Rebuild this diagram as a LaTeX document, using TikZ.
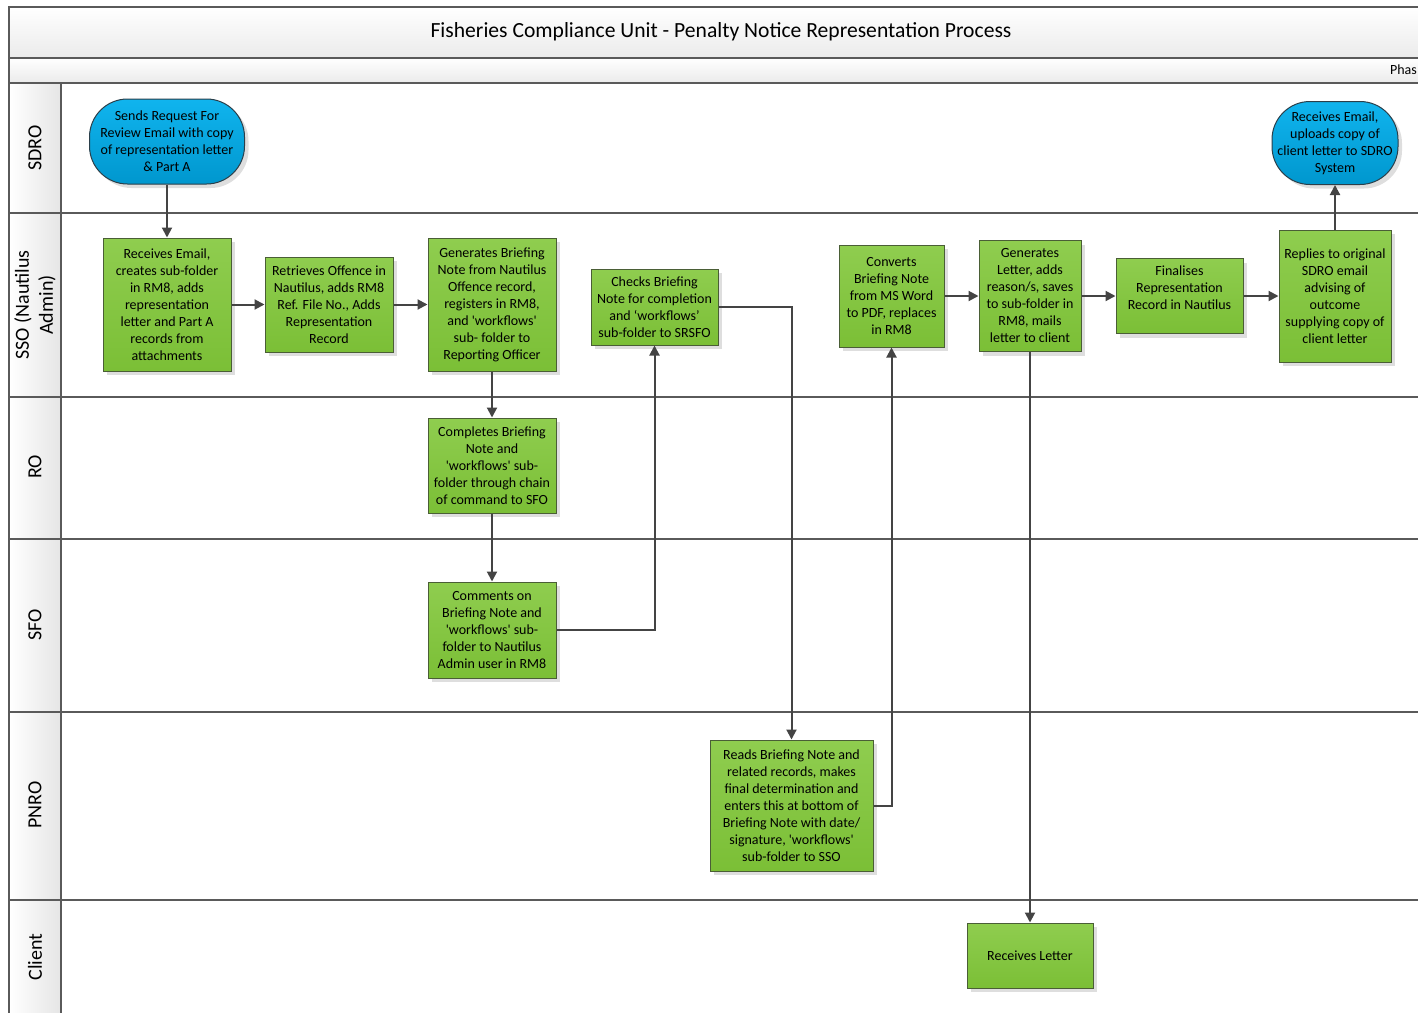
\documentclass[tikz,border=0pt]{standalone}
\usepackage{fontspec}
\setmainfont{Carlito}
\usetikzlibrary{shadows,arrows.meta}

\definecolor{boxgreen}{HTML}{8FCD4F}
\definecolor{boxgreendark}{HTML}{7BBF36}
\definecolor{boxedge}{HTML}{4A5E36}
\definecolor{termblue}{HTML}{10B4EE}
\definecolor{termbluedark}{HTML}{0097CE}
\definecolor{termedge}{HTML}{2B3F4A}
\definecolor{laneline}{HTML}{5A5A5A}
\definecolor{flowline}{HTML}{444444}

\tikzstyle{process}=[draw=boxedge, line width=1pt, top color=boxgreen, bottom color=boxgreendark, align=center, inner sep=2pt, font=\fontsize{14}{17}\selectfont, drop shadow={shadow xshift=4pt, shadow yshift=-4pt, fill=black!13, opacity=1}]
\tikzstyle{terminal}=[process, rounded corners=38pt, inner xsep=0pt, draw=termedge, top color=termblue, bottom color=termbluedark]
\tikzstyle{arrow}=[line width=2pt, draw=flowline, -{Triangle[length=10pt, width=10pt]}]
\tikzstyle{lane}=[laneline, line width=1.5pt]
\tikzstyle{lanename}=[rotate=90, align=center, font=\fontsize{20}{24}\selectfont]

\newcommand{\sq}{\textquotesingle}

\begin{document}
\begin{tikzpicture}[x=1pt, y=-1pt]
    \useasboundingbox (0,0) rectangle (1418,1012);
    \clip (0,0) rectangle (1418,1012);

    \shade[top color=white, bottom color=black!8] (9,7) rectangle (1430,58);
    \shade[top color=white, bottom color=black!8] (9,58) rectangle (1430,83);
    \shade[left color=white, right color=black!10] (9,83) rectangle (61,1020);
    \draw[lane] (1430,7) -- (9,7) -- (9,1020);
    \foreach \y in {58,83,213,397,539,712,900}
        \draw[lane] (9,\y) -- (1430,\y);
    \draw[lane] (61,83) -- (61,1020);

    \node (title) at (721,32) {\fontsize{21.6}{25}\selectfont Fisheries Compliance Unit - Penalty Notice Representation Process};
    \node[anchor=east, inner sep=0pt, font=\fontsize{14}{17}\selectfont] (phase) at (1417,70) {Phas};

    \node[lanename] (sdro) at (35,148) {SDRO};
    \node[lanename] (sso) at (35,305) {SSO (Nautilus\\Admin)};
    \node[lanename] (ro) at (35,467) {RO};
    \node[lanename] (sfo) at (35,625) {SFO};
    \node[lanename] (pnro) at (35,805) {PNRO};
    \node[lanename] (client) at (35,957) {Client};

    \node[terminal, minimum width=155, minimum height=85] (request) at (167,141.5) {Sends Request For\\Review Email with copy\\of representation letter\\\& Part A};
    \node[terminal, minimum width=126, minimum height=83] (upload) at (1335,143) {Receives Email,\\uploads copy of\\client letter to SDRO\\System};

    \node[process, minimum width=128, minimum height=133] (receive) at (167,304.5) {Receives Email,\\creates sub-folder\\in RM8, adds\\representation\\letter and Part A\\records from\\attachments};
    \node[process, minimum width=128, minimum height=95] (retrieve) at (329,304.5) {Retrieves Offence in\\Nautilus, adds RM8\\Ref. File No., Adds\\Representation\\Record};
    \node[process, minimum width=128, minimum height=133] (briefing) at (492,304.5) {Generates Briefing\\Note from Nautilus\\Offence record,\\registers in RM8,\\and \sq workflows\sq\\sub- folder to\\Reporting Officer};
    \node[process, minimum width=127, minimum height=76] (checks) at (654.5,307) {Checks Briefing\\Note for completion\\and ‘workflows’\\sub-folder to SRSFO};
    \node[process, minimum width=105, minimum height=102] (convert) at (891.5,296) {Converts\\Briefing Note\\from MS Word\\to PDF, replaces\\in RM8};
    \node[process, minimum width=102, minimum height=111] (letter) at (1030,296) {Generates\\Letter, adds\\reason/s, saves\\to sub-folder in\\RM8, mails\\letter to client};
    \node[process, minimum width=127, minimum height=75] (finalise) at (1179.5,296) {Finalises\\Representation\\Record in Nautilus\\\mbox{}};
    \node[process, minimum width=112, minimum height=132] (reply) at (1335,296) {Replies to original\\SDRO email\\advising of\\outcome\\supplying copy of\\client letter};

    \node[process, minimum width=128, minimum height=95] (complete) at (492,465.5) {Completes Briefing\\Note and\\\sq workflows\sq{} sub-\\folder through chain\\of command to SFO};
    \node[process, minimum width=128, minimum height=96] (comment) at (492,630) {Comments on\\Briefing Note and\\\sq workflows\sq{} sub-\\folder to Nautilus\\Admin user in RM8};
    \node[process, minimum width=163, minimum height=131] (determine) at (791.5,805.5) {Reads Briefing Note and\\related records, makes\\final determination and\\enters this at bottom of\\Briefing Note with date/\\signature, \sq workflows\sq\\sub-folder to SSO};
    \node[process, minimum width=126, minimum height=65] (receiveletter) at (1030,955.5) {Receives Letter};

    \draw[arrow] (request) -- (receive);
    \draw[arrow] (receive) -- (retrieve);
    \draw[arrow] (retrieve) -- (briefing);
    \draw[arrow] (briefing) -- (complete);
    \draw[arrow] (complete) -- (comment);
    \draw[arrow] (comment.east) -| (checks.south);
    \draw[arrow] (checks.east) -| (determine.north);
    \draw[arrow] (determine.east) -| (convert.south);
    \draw[arrow] (convert) -- (letter);
    \draw[arrow] (letter) -- (receiveletter);
    \draw[arrow] (letter) -- (finalise);
    \draw[arrow] (finalise) -- (reply);
    \draw[arrow] (reply) -- (upload);
\end{tikzpicture}
\end{document}
